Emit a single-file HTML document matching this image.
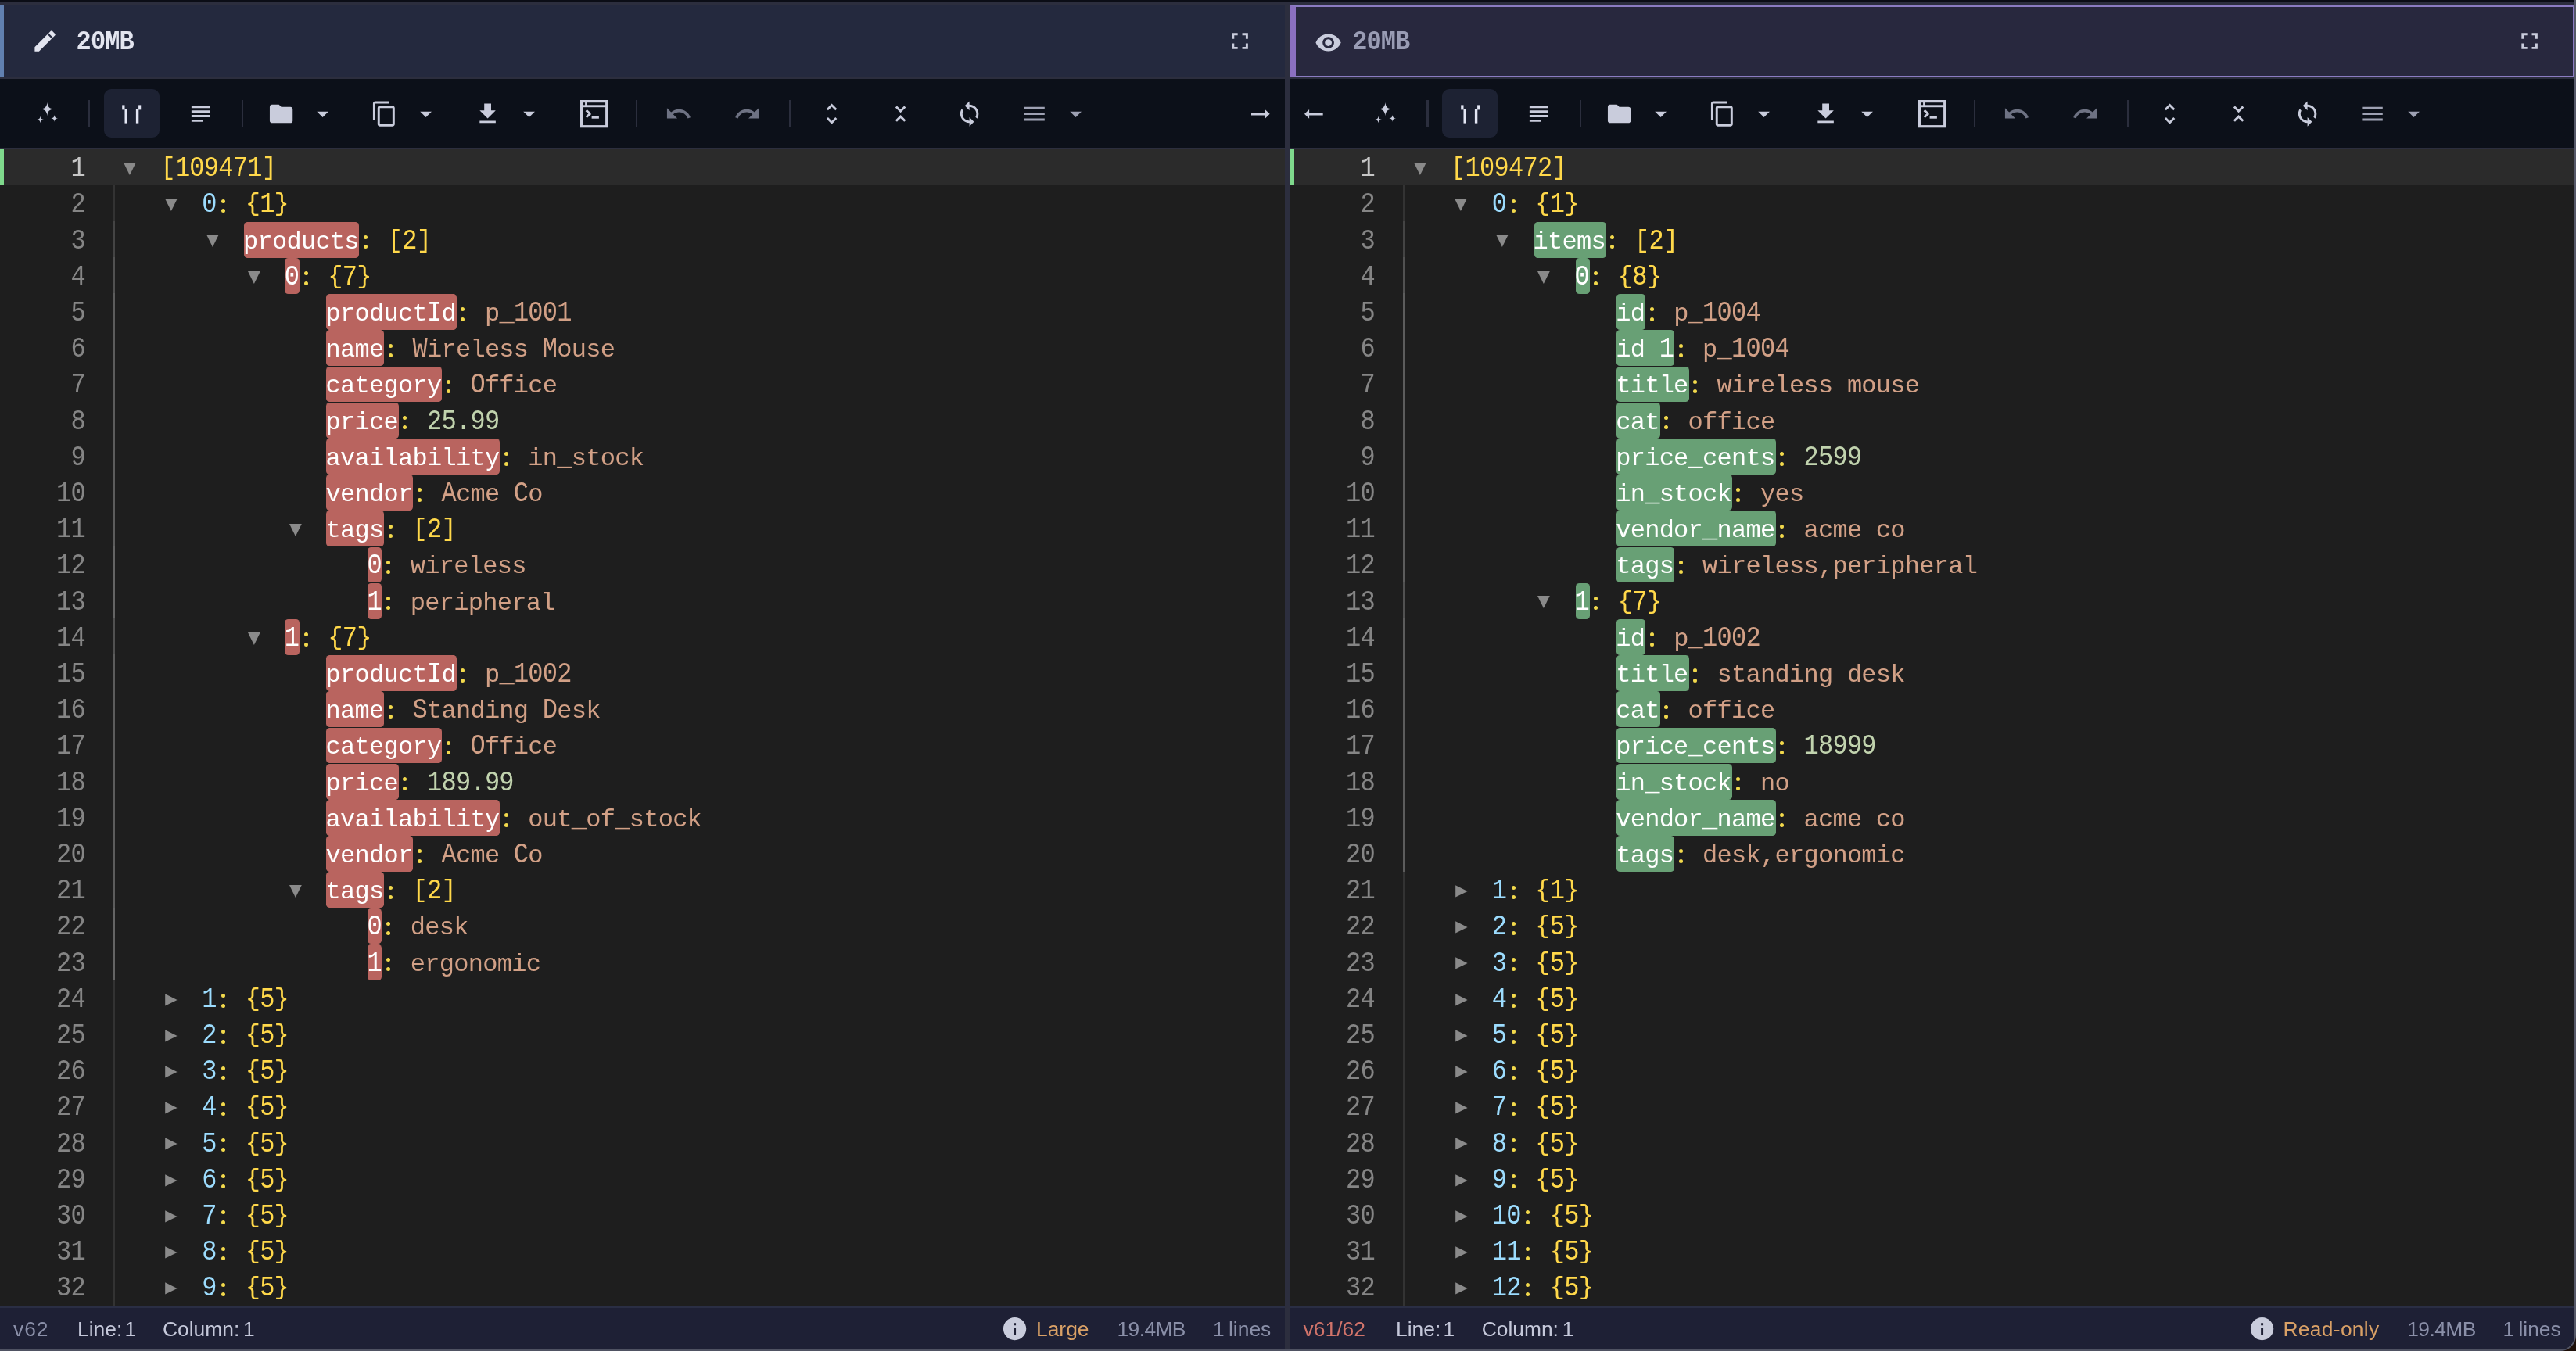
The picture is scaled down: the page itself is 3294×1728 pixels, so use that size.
<!DOCTYPE html>
<html><head><meta charset="utf-8"><title>JSON compare</title>
<style>
*{box-sizing:border-box;margin:0;padding:0}
html,body{width:3294px;height:1728px;overflow:hidden;background:#1d0f09}
body{position:relative;font-family:"Liberation Sans",sans-serif}
i{display:block;font-style:normal}
b{font-weight:normal}
.panel{position:absolute;top:0;width:1643px;height:1728px;overflow:hidden;will-change:transform}
#L{left:0}#R{left:1649px}
.hdr{position:absolute;left:0;top:2.8px;width:1643px;height:98.2px;background:#2c2e3e}
.lbox{position:absolute;left:0;top:4px;width:1643px;height:92.3px;background:#24293e}
#R .hbox{position:absolute;left:0;top:4px;width:1643px;height:92.3px;background:#28283e;border:2.4px solid #8b7cc2;border-left:8px solid #8b70c0}
.strip{position:absolute;left:0;top:0;width:5px;height:92.3px;background:#6180b0}
.title{position:absolute;top:-3px;height:98px;line-height:98px;font-family:"Liberation Mono",monospace;font-weight:bold;font-size:32px;letter-spacing:-0.9px;color:#e3e5f0;white-space:pre;transform:scaleY(1.08)}
.tb{position:absolute;left:0;top:101px;width:1643px;height:87.6px;background:#0c1019}
.ed{position:absolute;left:0;top:188.6px;width:1643px;height:1482.4px;background:#1e1e1e;border-top:2.2px solid #2c2e3d}
.sb{position:absolute;left:0;top:1671px;width:1643px;height:57px;background:#1e2035;border-top:2.4px solid #2a2e44}
.ic{position:absolute;fill:#c9ccdc;overflow:visible}
.sep{position:absolute;top:128px;width:2.2px;height:35px;background:#2b2e3d}
.abtn{position:absolute;top:114px;width:71px;height:62.4px;border-radius:9px;background:#1d2233}
.row{position:absolute;left:0;width:1643px;height:46.2px;line-height:46.2px;font-family:"Liberation Mono",monospace;font-size:32px;letter-spacing:-0.723px;white-space:pre}
.row.act{background:#2b2b2b}
.row.act:before{content:"";position:absolute;left:0;top:0;width:5px;height:46.2px;background:#7fd98c}
.ln{position:absolute;right:1534px;top:3.6px;color:#858585;text-align:right}
.act .ln{color:#c6c6c6}
.tri{position:absolute;top:17.4px;fill:#8a8a8a}
.hl{position:absolute;top:0.8px;height:45.8px;border-radius:4.6px}
.hl.r{background:#b9645f}.hl.g{background:#68a075}
.tx{position:absolute;top:3.6px}
.dg{display:inline-block;transform:scaleY(1.14);transform-origin:50% 31.6px}
.bk{display:inline-block;transform:translateY(-1.6px)}
.k{color:#9cdcfe}.kw{color:#fff}.c{position:relative;color:transparent}
.c:before,.c:after{content:"";position:absolute;left:6.4px;width:5px;height:5px;border-radius:50%;background:#f2d94c}
.c:before{top:10.4px}.c:after{top:22.8px}
.br{color:#ffd84a}.str{color:#d2a086}.num{color:#c1d3ae}
.guide{position:absolute;left:144px;width:3px}
.st{position:absolute;top:1674.4px;height:52.6px;line-height:52.6px;font-size:26.4px;white-space:pre;color:#c5c8da}
.st.dim{color:#8a8fa8}.st.or{color:#d9a066}.st.rd{color:#d0736a}
#div{position:absolute;left:1643px;top:2.8px;width:6px;height:1725.2px;background:#2c2e3e}
#R .row.act:before{width:6px}
#R .guide{left:144.9px;width:2.2px}
#win{position:absolute;left:0;top:0;width:3294px;height:1728px;overflow:hidden;background:#0b0d16;border-right:2px solid #565969;border-bottom:2.4px solid #4f5262;border-bottom-right-radius:20px}
</style></head>
<body>
<div id="win">
<div class="panel" id="L">
<div class="hdr"><div class="lbox"><i class="strip"></i></div></div><svg class="ic" style="left:39.7px;top:34.7px;width:35.2px;height:35.2px;fill:#e3e5f0" viewBox="0 0 24 24"><path d="M3 17.25V21h3.75L17.81 9.94l-3.75-3.75L3 17.25zM20.71 7.04c.39-.39.39-1.02 0-1.41l-2.34-2.34c-.39-.39-1.02-.39-1.41 0l-1.83 1.83 3.75 3.75 1.83-1.83z"/></svg><span class="title" style="left:97.6px;top:4.9px">20MB</span><svg class="ic" style="left:1567.7px;top:34.7px;width:35.2px;height:35.2px" viewBox="0 0 24 24"><path d="M7 14H5v5h5v-2H7v-3zm-2-4h2V7h3V5H5v5zm12 7h-3v2h5v-5h-2v3zM14 5v2h3v3h2V5h-5z"/></svg>
<div class="tb"></div>
<svg class="ic" style="left:40.6px;top:125.5px;width:40px;height:40px" viewBox="0 0 40 40"><path d="M19.4 5C20 10.76 22.24 13 28 13.6C22.24 14.2 20 16.44 19.4 22.2C18.8 16.44 16.56 14.2 10.8 13.6C16.56 13 18.8 10.76 19.4 5zM10.6 22.5C10.91 25.45 12.05 26.59 15 26.9C12.05 27.21 10.91 28.35 10.6 31.3C10.29 28.35 9.15 27.21 6.2 26.9C9.15 26.59 10.29 25.45 10.6 22.5zM28.6 20.9C28.91 23.85 30.05 24.99 33 25.3C30.05 25.61 28.91 26.75 28.6 29.7C28.29 26.75 27.15 25.61 24.2 25.3C27.15 24.99 28.29 23.85 28.6 20.9z"/></svg>
<i class="sep" style="left:113.3px"></i>
<i class="abtn" style="left:132.8px"></i>
<svg class="ic" style="left:148.4px;top:125.5px;width:40px;height:40px;fill:#e4e7f5" viewBox="0 0 40 40"><rect x="8.2" y="8.4" width="3.3" height="6"/><rect x="11.5" y="14" width="3.1" height="17.6"/><rect x="29.1" y="8.4" width="3.1" height="6"/><rect x="25.9" y="14" width="3.4" height="17.6"/></svg>
<svg class="ic" style="left:238.8px;top:127.9px;width:35.2px;height:35.2px" viewBox="0 0 24 24"><path d="M14 17H4v2h10v-2zm6-8H4v2h16V9zM4 15h16v-2H4v2zM4 5v2h16V5H4z"/></svg>
<i class="sep" style="left:309.1px"></i>
<svg class="ic" style="left:341.9px;top:127.9px;width:35.2px;height:35.2px" viewBox="0 0 24 24"><path d="M10 4H4c-1.1 0-1.99.9-1.99 2L2 18c0 1.1.9 2 2 2h16c1.1 0 2-.9 2-2V8c0-1.1-.9-2-2-2h-8l-2-2z"/></svg>
<svg class="ic" style="left:395.1px;top:127.9px;width:35.2px;height:35.2px" viewBox="0 0 24 24"><path d="M7 10l5 5 5-5z"/></svg>
<svg class="ic" style="left:473.9px;top:127.9px;width:35.2px;height:35.2px" viewBox="0 0 24 24"><path d="M16 1H4c-1.1 0-2 .9-2 2v14h2V3h12V1zm3 4H8c-1.1 0-2 .9-2 2v14c0 1.1.9 2 2 2h11c1.1 0 2-.9 2-2V7c0-1.1-.9-2-2-2zm0 16H8V7h11v14z"/></svg>
<svg class="ic" style="left:527.2px;top:127.9px;width:35.2px;height:35.2px" viewBox="0 0 24 24"><path d="M7 10l5 5 5-5z"/></svg>
<svg class="ic" style="left:606px;top:127.9px;width:35.2px;height:35.2px" viewBox="0 0 24 24"><path d="M19 9h-4V3H9v6H5l7 7 7-7zM5 18v2h14v-2H5z"/></svg>
<svg class="ic" style="left:659.1px;top:127.9px;width:35.2px;height:35.2px" viewBox="0 0 24 24"><path d="M7 10l5 5 5-5z"/></svg>
<svg class="ic" style="left:741.95px;top:127.85px;width:35.3px;height:35.3px;stroke:#c9ccdc" viewBox="0 0 35.3 35.3"><rect x="1.6" y="1.6" width="32.1" height="32.1" fill="none" stroke-width="3.2"/><rect x="1" y="6.3" width="33.3" height="2.9" stroke="none"/><rect x="6.1" y="0" width="2.3" height="7" stroke="none"/><path d="M7.6 13.2 L12.6 17.6 L7.6 22" fill="none" stroke-width="3" stroke-linejoin="bevel"/><rect x="14.6" y="20.5" width="9.3" height="3.2" stroke="none"/></svg>
<i class="sep" style="left:812.9px"></i>
<svg class="ic" style="left:850.1px;top:127.9px;width:35.2px;height:35.2px;fill:#6e7283" viewBox="0 0 24 24"><path d="M12.5 8c-2.65 0-5.05.99-6.9 2.6L2 7v9h9l-3.62-3.62c1.39-1.16 3.16-1.88 5.12-1.88 3.54 0 6.55 2.31 7.6 5.5l2.37-.78C21.08 11.03 17.15 8 12.5 8z"/></svg>
<svg class="ic" style="left:938.3px;top:127.9px;width:35.2px;height:35.2px;fill:#6e7283" viewBox="0 0 24 24"><path d="M18.4 10.6C16.55 8.99 14.15 8 11.5 8c-4.65 0-8.58 3.03-9.96 7.22L3.9 16c1.05-3.19 4.05-5.5 7.6-5.5 1.95 0 3.73.72 5.12 1.88L13 16h9V7l-3.6 3.6z"/></svg>
<i class="sep" style="left:1008.8px"></i>
<svg class="ic" style="left:1046px;top:127.9px;width:35.2px;height:35.2px" viewBox="0 0 24 24"><path d="M12 5.83L15.17 9l1.41-1.41L12 3 7.41 7.59 8.83 9 12 5.83zm0 12.34L8.83 15l-1.41 1.41L12 21l4.59-4.59L15.17 15 12 18.17z"/></svg>
<svg class="ic" style="left:1134px;top:127.9px;width:35.2px;height:35.2px" viewBox="0 0 24 24"><path d="M7.41 17.55L8.83 18.96 12 15.79 15.17 18.96l1.41-1.41L12 12.96l-4.59 4.59zM16.59 6.48L15.17 5.07 12 8.24 8.83 5.07 7.41 6.48 12 11.07l4.59-4.59z"/></svg>
<svg class="ic" style="left:1222px;top:127.9px;width:35.2px;height:35.2px" viewBox="0 0 24 24"><path d="M12 4V1L8 5l4 4V6c3.31 0 6 2.69 6 6 0 1.01-.25 1.97-.7 2.8l1.46 1.46C19.54 15.03 20 13.57 20 12c0-4.42-3.58-8-8-8zm0 14c-3.31 0-6-2.69-6-6 0-1.01.25-1.97.7-2.8L5.24 7.74C4.46 8.97 4 10.43 4 12c0 4.42 3.58 8 8 8v3l4-4-4-4v3z"/></svg>
<svg class="ic" style="left:1305px;top:127.9px;width:35.2px;height:35.2px;fill:#9ea1b3" viewBox="0 0 24 24"><path d="M3 18h18v-2H3v2zm0-5h18v-2H3v2zm0-7v2h18V6H3z"/></svg>
<svg class="ic" style="left:1357.9px;top:127.9px;width:35.2px;height:35.2px;fill:#9ea1b3" viewBox="0 0 24 24"><path d="M7 10l5 5 5-5z"/></svg>
<svg class="ic" style="left:1599.65px;top:139.65px;width:23.7px;height:11.7px" viewBox="0 0 23.7 11.7"><path d="M0 4.25H17.6V0L23.7 5.85L17.6 11.7V7.45H0z"/></svg>
<div class="ed"></div>
<div class="row act" style="top:190.6px"><span class="ln"><b class="dg">1</b></span><svg class="tri" style="left:158.3px" width="16" height="16" viewBox="0 0 16 16"><path d="M0 0.1H15.8L7.9 16z"/></svg><span class="tx" style="left:205.4px"><b class="br"><b class="bk">[</b><b class="dg">109471</b><b class="bk">]</b></b></span></div>
<div class="row" style="top:236.8px"><span class="ln"><b class="dg">2</b></span><svg class="tri" style="left:211.1px" width="16" height="16" viewBox="0 0 16 16"><path d="M0 0.1H15.8L7.9 16z"/></svg><span class="tx" style="left:258.2px"><b class="k"><b class="dg">0</b></b><b class="c">:</b> <b class="br"><b class="bk">{</b><b class="dg">1</b><b class="bk">}</b></b></span></div>
<div class="row" style="top:283px"><span class="ln"><b class="dg">3</b></span><svg class="tri" style="left:263.9px" width="16" height="16" viewBox="0 0 16 16"><path d="M0 0.1H15.8L7.9 16z"/></svg><i class="hl r" style="left:311.6px;width:147.84px"></i><span class="tx" style="left:311px"><b class="kw">products</b><b class="c">:</b> <b class="br"><b class="bk">[</b><b class="dg">2</b><b class="bk">]</b></b></span></div>
<div class="row" style="top:329.2px"><span class="ln"><b class="dg">4</b></span><svg class="tri" style="left:316.7px" width="16" height="16" viewBox="0 0 16 16"><path d="M0 0.1H15.8L7.9 16z"/></svg><i class="hl r" style="left:364.4px;width:18.48px"></i><span class="tx" style="left:363.8px"><b class="kw"><b class="dg">0</b></b><b class="c">:</b> <b class="br"><b class="bk">{</b><b class="dg">7</b><b class="bk">}</b></b></span></div>
<div class="row" style="top:375.4px"><span class="ln"><b class="dg">5</b></span><i class="hl r" style="left:417.2px;width:166.32px"></i><span class="tx" style="left:416.6px"><b class="kw">product<b class="dg">I</b>d</b><b class="c">:</b> <b class="str">p_<b class="dg">1001</b></b></span></div>
<div class="row" style="top:421.6px"><span class="ln"><b class="dg">6</b></span><i class="hl r" style="left:417.2px;width:73.92px"></i><span class="tx" style="left:416.6px"><b class="kw">name</b><b class="c">:</b> <b class="str"><b class="dg">W</b>ireless <b class="dg">M</b>ouse</b></span></div>
<div class="row" style="top:467.8px"><span class="ln"><b class="dg">7</b></span><i class="hl r" style="left:417.2px;width:147.84px"></i><span class="tx" style="left:416.6px"><b class="kw">category</b><b class="c">:</b> <b class="str"><b class="dg">O</b>ffice</b></span></div>
<div class="row" style="top:514px"><span class="ln"><b class="dg">8</b></span><i class="hl r" style="left:417.2px;width:92.4px"></i><span class="tx" style="left:416.6px"><b class="kw">price</b><b class="c">:</b> <b class="num"><b class="dg">25.99</b></b></span></div>
<div class="row" style="top:560.2px"><span class="ln"><b class="dg">9</b></span><i class="hl r" style="left:417.2px;width:221.76px"></i><span class="tx" style="left:416.6px"><b class="kw">availability</b><b class="c">:</b> <b class="str">in_stock</b></span></div>
<div class="row" style="top:606.4px"><span class="ln"><b class="dg">10</b></span><i class="hl r" style="left:417.2px;width:110.88px"></i><span class="tx" style="left:416.6px"><b class="kw">vendor</b><b class="c">:</b> <b class="str"><b class="dg">A</b>cme <b class="dg">C</b>o</b></span></div>
<div class="row" style="top:652.6px"><span class="ln"><b class="dg">11</b></span><svg class="tri" style="left:369.5px" width="16" height="16" viewBox="0 0 16 16"><path d="M0 0.1H15.8L7.9 16z"/></svg><i class="hl r" style="left:417.2px;width:73.92px"></i><span class="tx" style="left:416.6px"><b class="kw">tags</b><b class="c">:</b> <b class="br"><b class="bk">[</b><b class="dg">2</b><b class="bk">]</b></b></span></div>
<div class="row" style="top:698.8px"><span class="ln"><b class="dg">12</b></span><i class="hl r" style="left:470px;width:18.48px"></i><span class="tx" style="left:469.4px"><b class="kw"><b class="dg">0</b></b><b class="c">:</b> <b class="str">wireless</b></span></div>
<div class="row" style="top:745px"><span class="ln"><b class="dg">13</b></span><i class="hl r" style="left:470px;width:18.48px"></i><span class="tx" style="left:469.4px"><b class="kw"><b class="dg">1</b></b><b class="c">:</b> <b class="str">peripheral</b></span></div>
<div class="row" style="top:791.2px"><span class="ln"><b class="dg">14</b></span><svg class="tri" style="left:316.7px" width="16" height="16" viewBox="0 0 16 16"><path d="M0 0.1H15.8L7.9 16z"/></svg><i class="hl r" style="left:364.4px;width:18.48px"></i><span class="tx" style="left:363.8px"><b class="kw"><b class="dg">1</b></b><b class="c">:</b> <b class="br"><b class="bk">{</b><b class="dg">7</b><b class="bk">}</b></b></span></div>
<div class="row" style="top:837.4px"><span class="ln"><b class="dg">15</b></span><i class="hl r" style="left:417.2px;width:166.32px"></i><span class="tx" style="left:416.6px"><b class="kw">product<b class="dg">I</b>d</b><b class="c">:</b> <b class="str">p_<b class="dg">1002</b></b></span></div>
<div class="row" style="top:883.6px"><span class="ln"><b class="dg">16</b></span><i class="hl r" style="left:417.2px;width:73.92px"></i><span class="tx" style="left:416.6px"><b class="kw">name</b><b class="c">:</b> <b class="str"><b class="dg">S</b>tanding <b class="dg">D</b>esk</b></span></div>
<div class="row" style="top:929.8px"><span class="ln"><b class="dg">17</b></span><i class="hl r" style="left:417.2px;width:147.84px"></i><span class="tx" style="left:416.6px"><b class="kw">category</b><b class="c">:</b> <b class="str"><b class="dg">O</b>ffice</b></span></div>
<div class="row" style="top:976px"><span class="ln"><b class="dg">18</b></span><i class="hl r" style="left:417.2px;width:92.4px"></i><span class="tx" style="left:416.6px"><b class="kw">price</b><b class="c">:</b> <b class="num"><b class="dg">189.99</b></b></span></div>
<div class="row" style="top:1022.2px"><span class="ln"><b class="dg">19</b></span><i class="hl r" style="left:417.2px;width:221.76px"></i><span class="tx" style="left:416.6px"><b class="kw">availability</b><b class="c">:</b> <b class="str">out_of_stock</b></span></div>
<div class="row" style="top:1068.4px"><span class="ln"><b class="dg">20</b></span><i class="hl r" style="left:417.2px;width:110.88px"></i><span class="tx" style="left:416.6px"><b class="kw">vendor</b><b class="c">:</b> <b class="str"><b class="dg">A</b>cme <b class="dg">C</b>o</b></span></div>
<div class="row" style="top:1114.6px"><span class="ln"><b class="dg">21</b></span><svg class="tri" style="left:369.5px" width="16" height="16" viewBox="0 0 16 16"><path d="M0 0.1H15.8L7.9 16z"/></svg><i class="hl r" style="left:417.2px;width:73.92px"></i><span class="tx" style="left:416.6px"><b class="kw">tags</b><b class="c">:</b> <b class="br"><b class="bk">[</b><b class="dg">2</b><b class="bk">]</b></b></span></div>
<div class="row" style="top:1160.8px"><span class="ln"><b class="dg">22</b></span><i class="hl r" style="left:470px;width:18.48px"></i><span class="tx" style="left:469.4px"><b class="kw"><b class="dg">0</b></b><b class="c">:</b> <b class="str">desk</b></span></div>
<div class="row" style="top:1207px"><span class="ln"><b class="dg">23</b></span><i class="hl r" style="left:470px;width:18.48px"></i><span class="tx" style="left:469.4px"><b class="kw"><b class="dg">1</b></b><b class="c">:</b> <b class="str">ergonomic</b></span></div>
<div class="row" style="top:1253.2px"><span class="ln"><b class="dg">24</b></span><svg class="tri" style="left:211.4px" width="16" height="16" viewBox="0 0 16 16"><path d="M0.2 0.2V15.6L15.6 7.9z"/></svg><span class="tx" style="left:258.2px"><b class="k"><b class="dg">1</b></b><b class="c">:</b> <b class="br"><b class="bk">{</b><b class="dg">5</b><b class="bk">}</b></b></span></div>
<div class="row" style="top:1299.4px"><span class="ln"><b class="dg">25</b></span><svg class="tri" style="left:211.4px" width="16" height="16" viewBox="0 0 16 16"><path d="M0.2 0.2V15.6L15.6 7.9z"/></svg><span class="tx" style="left:258.2px"><b class="k"><b class="dg">2</b></b><b class="c">:</b> <b class="br"><b class="bk">{</b><b class="dg">5</b><b class="bk">}</b></b></span></div>
<div class="row" style="top:1345.6px"><span class="ln"><b class="dg">26</b></span><svg class="tri" style="left:211.4px" width="16" height="16" viewBox="0 0 16 16"><path d="M0.2 0.2V15.6L15.6 7.9z"/></svg><span class="tx" style="left:258.2px"><b class="k"><b class="dg">3</b></b><b class="c">:</b> <b class="br"><b class="bk">{</b><b class="dg">5</b><b class="bk">}</b></b></span></div>
<div class="row" style="top:1391.8px"><span class="ln"><b class="dg">27</b></span><svg class="tri" style="left:211.4px" width="16" height="16" viewBox="0 0 16 16"><path d="M0.2 0.2V15.6L15.6 7.9z"/></svg><span class="tx" style="left:258.2px"><b class="k"><b class="dg">4</b></b><b class="c">:</b> <b class="br"><b class="bk">{</b><b class="dg">5</b><b class="bk">}</b></b></span></div>
<div class="row" style="top:1438px"><span class="ln"><b class="dg">28</b></span><svg class="tri" style="left:211.4px" width="16" height="16" viewBox="0 0 16 16"><path d="M0.2 0.2V15.6L15.6 7.9z"/></svg><span class="tx" style="left:258.2px"><b class="k"><b class="dg">5</b></b><b class="c">:</b> <b class="br"><b class="bk">{</b><b class="dg">5</b><b class="bk">}</b></b></span></div>
<div class="row" style="top:1484.2px"><span class="ln"><b class="dg">29</b></span><svg class="tri" style="left:211.4px" width="16" height="16" viewBox="0 0 16 16"><path d="M0.2 0.2V15.6L15.6 7.9z"/></svg><span class="tx" style="left:258.2px"><b class="k"><b class="dg">6</b></b><b class="c">:</b> <b class="br"><b class="bk">{</b><b class="dg">5</b><b class="bk">}</b></b></span></div>
<div class="row" style="top:1530.4px"><span class="ln"><b class="dg">30</b></span><svg class="tri" style="left:211.4px" width="16" height="16" viewBox="0 0 16 16"><path d="M0.2 0.2V15.6L15.6 7.9z"/></svg><span class="tx" style="left:258.2px"><b class="k"><b class="dg">7</b></b><b class="c">:</b> <b class="br"><b class="bk">{</b><b class="dg">5</b><b class="bk">}</b></b></span></div>
<div class="row" style="top:1576.6px"><span class="ln"><b class="dg">31</b></span><svg class="tri" style="left:211.4px" width="16" height="16" viewBox="0 0 16 16"><path d="M0.2 0.2V15.6L15.6 7.9z"/></svg><span class="tx" style="left:258.2px"><b class="k"><b class="dg">8</b></b><b class="c">:</b> <b class="br"><b class="bk">{</b><b class="dg">5</b><b class="bk">}</b></b></span></div>
<div class="row" style="top:1622.8px"><span class="ln"><b class="dg">32</b></span><svg class="tri" style="left:211.4px" width="16" height="16" viewBox="0 0 16 16"><path d="M0.2 0.2V15.6L15.6 7.9z"/></svg><span class="tx" style="left:258.2px"><b class="k"><b class="dg">9</b></b><b class="c">:</b> <b class="br"><b class="bk">{</b><b class="dg">5</b><b class="bk">}</b></b></span></div>
<i class="guide" style="top:236.8px;height:46.2px;background:#333333"></i><i class="guide" style="top:283px;height:46.2px;background:#444444"></i><i class="guide" style="top:329.2px;height:46.2px;background:#515151"></i><i class="guide" style="top:375.4px;height:323.4px;background:#5c5c5c"></i><i class="guide" style="top:698.8px;height:92.4px;background:#646464"></i><i class="guide" style="top:791.2px;height:46.2px;background:#515151"></i><i class="guide" style="top:837.4px;height:323.4px;background:#5c5c5c"></i><i class="guide" style="top:1160.8px;height:92.4px;background:#646464"></i><i class="guide" style="top:1253.2px;height:417.8px;background:#333333"></i>
<div class="sb"></div>
<span class="st dim" style="left:17px;letter-spacing:1px">v62</span><span class="st " style="left:99px;word-spacing:-4px">Line: 1</span><span class="st " style="left:208px;word-spacing:-2.5px">Column: 1</span><svg class="ic" style="left:1279.8px;top:1681.9px;width:35.2px;height:35.2px" viewBox="0 0 24 24"><path d="M12 2C6.48 2 2 6.48 2 12s4.48 10 10 10 10-4.48 10-10S17.52 2 12 2zm1 15h-2v-6h2v6zm0-8h-2V7h2v2z"/></svg><span class="st or" style="left:1325px">Large</span><span class="st dim" style="left:1428.5px;letter-spacing:-0.6px">19.4MB</span><span class="st dim" style="left:1551px;word-spacing:-2px">1 lines</span>
</div>
<i id="div"></i>
<div class="panel" id="R">
<div class="hdr"><div class="hbox"></div></div><svg class="ic" style="left:31.9px;top:36.8px;width:35.2px;height:35.2px" viewBox="0 0 24 24"><path d="M12 4.5C7 4.5 2.73 7.61 1 12c1.73 4.39 6 7.5 11 7.5s9.27-3.11 11-7.5c-1.73-4.39-6-7.5-11-7.5zM12 17c-2.76 0-5-2.24-5-5s2.24-5 5-5 5 2.24 5 5-2.24 5-5 5zm0-8c-1.66 0-3 1.34-3 3s1.34 3 3 3 3-1.34 3-3-1.34-3-3-3z"/></svg><span class="title" style="left:80.2px;top:4.9px;color:#999cb4">20MB</span><svg class="ic" style="left:1568px;top:34.9px;width:35.2px;height:35.2px" viewBox="0 0 24 24"><path d="M7 14H5v5h5v-2H7v-3zm-2-4h2V7h3V5H5v5zm12 7h-3v2h5v-5h-2v3zM14 5v2h3v3h2V5h-5z"/></svg>
<div class="tb"></div>
<svg class="ic" style="left:18.95px;top:139.65px;width:23.7px;height:11.7px" viewBox="0 0 23.7 11.7"><path d="M23.7 4.25H6.1V0L0 5.85L6.1 11.7V7.45H23.7z"/></svg>
<svg class="ic" style="left:102.7px;top:125.5px;width:40px;height:40px" viewBox="0 0 40 40"><path d="M19.4 5C20 10.76 22.24 13 28 13.6C22.24 14.2 20 16.44 19.4 22.2C18.8 16.44 16.56 14.2 10.8 13.6C16.56 13 18.8 10.76 19.4 5zM10.6 22.5C10.91 25.45 12.05 26.59 15 26.9C12.05 27.21 10.91 28.35 10.6 31.3C10.29 28.35 9.15 27.21 6.2 26.9C9.15 26.59 10.29 25.45 10.6 22.5zM28.6 20.9C28.91 23.85 30.05 24.99 33 25.3C30.05 25.61 28.91 26.75 28.6 29.7C28.29 26.75 27.15 25.61 24.2 25.3C27.15 24.99 28.29 23.85 28.6 20.9z"/></svg>
<i class="sep" style="left:175.4px"></i>
<i class="abtn" style="left:194.9px"></i>
<svg class="ic" style="left:210.5px;top:125.5px;width:40px;height:40px;fill:#e4e7f5" viewBox="0 0 40 40"><rect x="8.2" y="8.4" width="3.3" height="6"/><rect x="11.5" y="14" width="3.1" height="17.6"/><rect x="29.1" y="8.4" width="3.1" height="6"/><rect x="25.9" y="14" width="3.4" height="17.6"/></svg>
<svg class="ic" style="left:300.9px;top:127.9px;width:35.2px;height:35.2px" viewBox="0 0 24 24"><path d="M14 17H4v2h10v-2zm6-8H4v2h16V9zM4 15h16v-2H4v2zM4 5v2h16V5H4z"/></svg>
<i class="sep" style="left:371.2px"></i>
<svg class="ic" style="left:404px;top:127.9px;width:35.2px;height:35.2px" viewBox="0 0 24 24"><path d="M10 4H4c-1.1 0-1.99.9-1.99 2L2 18c0 1.1.9 2 2 2h16c1.1 0 2-.9 2-2V8c0-1.1-.9-2-2-2h-8l-2-2z"/></svg>
<svg class="ic" style="left:457.2px;top:127.9px;width:35.2px;height:35.2px" viewBox="0 0 24 24"><path d="M7 10l5 5 5-5z"/></svg>
<svg class="ic" style="left:536px;top:127.9px;width:35.2px;height:35.2px" viewBox="0 0 24 24"><path d="M16 1H4c-1.1 0-2 .9-2 2v14h2V3h12V1zm3 4H8c-1.1 0-2 .9-2 2v14c0 1.1.9 2 2 2h11c1.1 0 2-.9 2-2V7c0-1.1-.9-2-2-2zm0 16H8V7h11v14z"/></svg>
<svg class="ic" style="left:589.3px;top:127.9px;width:35.2px;height:35.2px" viewBox="0 0 24 24"><path d="M7 10l5 5 5-5z"/></svg>
<svg class="ic" style="left:668.1px;top:127.9px;width:35.2px;height:35.2px" viewBox="0 0 24 24"><path d="M19 9h-4V3H9v6H5l7 7 7-7zM5 18v2h14v-2H5z"/></svg>
<svg class="ic" style="left:721.2px;top:127.9px;width:35.2px;height:35.2px" viewBox="0 0 24 24"><path d="M7 10l5 5 5-5z"/></svg>
<svg class="ic" style="left:804.05px;top:127.85px;width:35.3px;height:35.3px;stroke:#c9ccdc" viewBox="0 0 35.3 35.3"><rect x="1.6" y="1.6" width="32.1" height="32.1" fill="none" stroke-width="3.2"/><rect x="1" y="6.3" width="33.3" height="2.9" stroke="none"/><rect x="6.1" y="0" width="2.3" height="7" stroke="none"/><path d="M7.6 13.2 L12.6 17.6 L7.6 22" fill="none" stroke-width="3" stroke-linejoin="bevel"/><rect x="14.6" y="20.5" width="9.3" height="3.2" stroke="none"/></svg>
<i class="sep" style="left:875px"></i>
<svg class="ic" style="left:912.2px;top:127.9px;width:35.2px;height:35.2px;fill:#6e7283" viewBox="0 0 24 24"><path d="M12.5 8c-2.65 0-5.05.99-6.9 2.6L2 7v9h9l-3.62-3.62c1.39-1.16 3.16-1.88 5.12-1.88 3.54 0 6.55 2.31 7.6 5.5l2.37-.78C21.08 11.03 17.15 8 12.5 8z"/></svg>
<svg class="ic" style="left:1000.4px;top:127.9px;width:35.2px;height:35.2px;fill:#6e7283" viewBox="0 0 24 24"><path d="M18.4 10.6C16.55 8.99 14.15 8 11.5 8c-4.65 0-8.58 3.03-9.96 7.22L3.9 16c1.05-3.19 4.05-5.5 7.6-5.5 1.95 0 3.73.72 5.12 1.88L13 16h9V7l-3.6 3.6z"/></svg>
<i class="sep" style="left:1070.9px"></i>
<svg class="ic" style="left:1108.1px;top:127.9px;width:35.2px;height:35.2px" viewBox="0 0 24 24"><path d="M12 5.83L15.17 9l1.41-1.41L12 3 7.41 7.59 8.83 9 12 5.83zm0 12.34L8.83 15l-1.41 1.41L12 21l4.59-4.59L15.17 15 12 18.17z"/></svg>
<svg class="ic" style="left:1196.1px;top:127.9px;width:35.2px;height:35.2px" viewBox="0 0 24 24"><path d="M7.41 17.55L8.83 18.96 12 15.79 15.17 18.96l1.41-1.41L12 12.96l-4.59 4.59zM16.59 6.48L15.17 5.07 12 8.24 8.83 5.07 7.41 6.48 12 11.07l4.59-4.59z"/></svg>
<svg class="ic" style="left:1284.1px;top:127.9px;width:35.2px;height:35.2px" viewBox="0 0 24 24"><path d="M12 4V1L8 5l4 4V6c3.31 0 6 2.69 6 6 0 1.01-.25 1.97-.7 2.8l1.46 1.46C19.54 15.03 20 13.57 20 12c0-4.42-3.58-8-8-8zm0 14c-3.31 0-6-2.69-6-6 0-1.01.25-1.97.7-2.8L5.24 7.74C4.46 8.97 4 10.43 4 12c0 4.42 3.58 8 8 8v3l4-4-4-4v3z"/></svg>
<svg class="ic" style="left:1367.1px;top:127.9px;width:35.2px;height:35.2px;fill:#9ea1b3" viewBox="0 0 24 24"><path d="M3 18h18v-2H3v2zm0-5h18v-2H3v2zm0-7v2h18V6H3z"/></svg>
<svg class="ic" style="left:1420px;top:127.9px;width:35.2px;height:35.2px;fill:#9ea1b3" viewBox="0 0 24 24"><path d="M7 10l5 5 5-5z"/></svg>
<div class="ed"></div>
<div class="row act" style="top:190.6px"><span class="ln"><b class="dg">1</b></span><svg class="tri" style="left:158.5px" width="16" height="16" viewBox="0 0 16 16"><path d="M0 0.1H15.8L7.9 16z"/></svg><span class="tx" style="left:206px"><b class="br"><b class="bk">[</b><b class="dg">109472</b><b class="bk">]</b></b></span></div>
<div class="row" style="top:236.8px"><span class="ln"><b class="dg">2</b></span><svg class="tri" style="left:211.3px" width="16" height="16" viewBox="0 0 16 16"><path d="M0 0.1H15.8L7.9 16z"/></svg><span class="tx" style="left:258.8px"><b class="k"><b class="dg">0</b></b><b class="c">:</b> <b class="br"><b class="bk">{</b><b class="dg">1</b><b class="bk">}</b></b></span></div>
<div class="row" style="top:283px"><span class="ln"><b class="dg">3</b></span><svg class="tri" style="left:264.1px" width="16" height="16" viewBox="0 0 16 16"><path d="M0 0.1H15.8L7.9 16z"/></svg><i class="hl g" style="left:312.7px;width:92.4px"></i><span class="tx" style="left:311.6px"><b class="kw">items</b><b class="c">:</b> <b class="br"><b class="bk">[</b><b class="dg">2</b><b class="bk">]</b></b></span></div>
<div class="row" style="top:329.2px"><span class="ln"><b class="dg">4</b></span><svg class="tri" style="left:316.9px" width="16" height="16" viewBox="0 0 16 16"><path d="M0 0.1H15.8L7.9 16z"/></svg><i class="hl g" style="left:365.5px;width:18.48px"></i><span class="tx" style="left:364.4px"><b class="kw"><b class="dg">0</b></b><b class="c">:</b> <b class="br"><b class="bk">{</b><b class="dg">8</b><b class="bk">}</b></b></span></div>
<div class="row" style="top:375.4px"><span class="ln"><b class="dg">5</b></span><i class="hl g" style="left:418.3px;width:36.96px"></i><span class="tx" style="left:417.2px"><b class="kw">id</b><b class="c">:</b> <b class="str">p_<b class="dg">1004</b></b></span></div>
<div class="row" style="top:421.6px"><span class="ln"><b class="dg">6</b></span><i class="hl g" style="left:418.3px;width:73.92px"></i><span class="tx" style="left:417.2px"><b class="kw">id <b class="dg">1</b></b><b class="c">:</b> <b class="str">p_<b class="dg">1004</b></b></span></div>
<div class="row" style="top:467.8px"><span class="ln"><b class="dg">7</b></span><i class="hl g" style="left:418.3px;width:92.4px"></i><span class="tx" style="left:417.2px"><b class="kw">title</b><b class="c">:</b> <b class="str">wireless mouse</b></span></div>
<div class="row" style="top:514px"><span class="ln"><b class="dg">8</b></span><i class="hl g" style="left:418.3px;width:55.44px"></i><span class="tx" style="left:417.2px"><b class="kw">cat</b><b class="c">:</b> <b class="str">office</b></span></div>
<div class="row" style="top:560.2px"><span class="ln"><b class="dg">9</b></span><i class="hl g" style="left:418.3px;width:203.28px"></i><span class="tx" style="left:417.2px"><b class="kw">price_cents</b><b class="c">:</b> <b class="num"><b class="dg">2599</b></b></span></div>
<div class="row" style="top:606.4px"><span class="ln"><b class="dg">10</b></span><i class="hl g" style="left:418.3px;width:147.84px"></i><span class="tx" style="left:417.2px"><b class="kw">in_stock</b><b class="c">:</b> <b class="str">yes</b></span></div>
<div class="row" style="top:652.6px"><span class="ln"><b class="dg">11</b></span><i class="hl g" style="left:418.3px;width:203.28px"></i><span class="tx" style="left:417.2px"><b class="kw">vendor_name</b><b class="c">:</b> <b class="str">acme co</b></span></div>
<div class="row" style="top:698.8px"><span class="ln"><b class="dg">12</b></span><i class="hl g" style="left:418.3px;width:73.92px"></i><span class="tx" style="left:417.2px"><b class="kw">tags</b><b class="c">:</b> <b class="str">wireless,peripheral</b></span></div>
<div class="row" style="top:745px"><span class="ln"><b class="dg">13</b></span><svg class="tri" style="left:316.9px" width="16" height="16" viewBox="0 0 16 16"><path d="M0 0.1H15.8L7.9 16z"/></svg><i class="hl g" style="left:365.5px;width:18.48px"></i><span class="tx" style="left:364.4px"><b class="kw"><b class="dg">1</b></b><b class="c">:</b> <b class="br"><b class="bk">{</b><b class="dg">7</b><b class="bk">}</b></b></span></div>
<div class="row" style="top:791.2px"><span class="ln"><b class="dg">14</b></span><i class="hl g" style="left:418.3px;width:36.96px"></i><span class="tx" style="left:417.2px"><b class="kw">id</b><b class="c">:</b> <b class="str">p_<b class="dg">1002</b></b></span></div>
<div class="row" style="top:837.4px"><span class="ln"><b class="dg">15</b></span><i class="hl g" style="left:418.3px;width:92.4px"></i><span class="tx" style="left:417.2px"><b class="kw">title</b><b class="c">:</b> <b class="str">standing desk</b></span></div>
<div class="row" style="top:883.6px"><span class="ln"><b class="dg">16</b></span><i class="hl g" style="left:418.3px;width:55.44px"></i><span class="tx" style="left:417.2px"><b class="kw">cat</b><b class="c">:</b> <b class="str">office</b></span></div>
<div class="row" style="top:929.8px"><span class="ln"><b class="dg">17</b></span><i class="hl g" style="left:418.3px;width:203.28px"></i><span class="tx" style="left:417.2px"><b class="kw">price_cents</b><b class="c">:</b> <b class="num"><b class="dg">18999</b></b></span></div>
<div class="row" style="top:976px"><span class="ln"><b class="dg">18</b></span><i class="hl g" style="left:418.3px;width:147.84px"></i><span class="tx" style="left:417.2px"><b class="kw">in_stock</b><b class="c">:</b> <b class="str">no</b></span></div>
<div class="row" style="top:1022.2px"><span class="ln"><b class="dg">19</b></span><i class="hl g" style="left:418.3px;width:203.28px"></i><span class="tx" style="left:417.2px"><b class="kw">vendor_name</b><b class="c">:</b> <b class="str">acme co</b></span></div>
<div class="row" style="top:1068.4px"><span class="ln"><b class="dg">20</b></span><i class="hl g" style="left:418.3px;width:73.92px"></i><span class="tx" style="left:417.2px"><b class="kw">tags</b><b class="c">:</b> <b class="str">desk,ergonomic</b></span></div>
<div class="row" style="top:1114.6px"><span class="ln"><b class="dg">21</b></span><svg class="tri" style="left:211.6px" width="16" height="16" viewBox="0 0 16 16"><path d="M0.2 0.2V15.6L15.6 7.9z"/></svg><span class="tx" style="left:258.8px"><b class="k"><b class="dg">1</b></b><b class="c">:</b> <b class="br"><b class="bk">{</b><b class="dg">1</b><b class="bk">}</b></b></span></div>
<div class="row" style="top:1160.8px"><span class="ln"><b class="dg">22</b></span><svg class="tri" style="left:211.6px" width="16" height="16" viewBox="0 0 16 16"><path d="M0.2 0.2V15.6L15.6 7.9z"/></svg><span class="tx" style="left:258.8px"><b class="k"><b class="dg">2</b></b><b class="c">:</b> <b class="br"><b class="bk">{</b><b class="dg">5</b><b class="bk">}</b></b></span></div>
<div class="row" style="top:1207px"><span class="ln"><b class="dg">23</b></span><svg class="tri" style="left:211.6px" width="16" height="16" viewBox="0 0 16 16"><path d="M0.2 0.2V15.6L15.6 7.9z"/></svg><span class="tx" style="left:258.8px"><b class="k"><b class="dg">3</b></b><b class="c">:</b> <b class="br"><b class="bk">{</b><b class="dg">5</b><b class="bk">}</b></b></span></div>
<div class="row" style="top:1253.2px"><span class="ln"><b class="dg">24</b></span><svg class="tri" style="left:211.6px" width="16" height="16" viewBox="0 0 16 16"><path d="M0.2 0.2V15.6L15.6 7.9z"/></svg><span class="tx" style="left:258.8px"><b class="k"><b class="dg">4</b></b><b class="c">:</b> <b class="br"><b class="bk">{</b><b class="dg">5</b><b class="bk">}</b></b></span></div>
<div class="row" style="top:1299.4px"><span class="ln"><b class="dg">25</b></span><svg class="tri" style="left:211.6px" width="16" height="16" viewBox="0 0 16 16"><path d="M0.2 0.2V15.6L15.6 7.9z"/></svg><span class="tx" style="left:258.8px"><b class="k"><b class="dg">5</b></b><b class="c">:</b> <b class="br"><b class="bk">{</b><b class="dg">5</b><b class="bk">}</b></b></span></div>
<div class="row" style="top:1345.6px"><span class="ln"><b class="dg">26</b></span><svg class="tri" style="left:211.6px" width="16" height="16" viewBox="0 0 16 16"><path d="M0.2 0.2V15.6L15.6 7.9z"/></svg><span class="tx" style="left:258.8px"><b class="k"><b class="dg">6</b></b><b class="c">:</b> <b class="br"><b class="bk">{</b><b class="dg">5</b><b class="bk">}</b></b></span></div>
<div class="row" style="top:1391.8px"><span class="ln"><b class="dg">27</b></span><svg class="tri" style="left:211.6px" width="16" height="16" viewBox="0 0 16 16"><path d="M0.2 0.2V15.6L15.6 7.9z"/></svg><span class="tx" style="left:258.8px"><b class="k"><b class="dg">7</b></b><b class="c">:</b> <b class="br"><b class="bk">{</b><b class="dg">5</b><b class="bk">}</b></b></span></div>
<div class="row" style="top:1438px"><span class="ln"><b class="dg">28</b></span><svg class="tri" style="left:211.6px" width="16" height="16" viewBox="0 0 16 16"><path d="M0.2 0.2V15.6L15.6 7.9z"/></svg><span class="tx" style="left:258.8px"><b class="k"><b class="dg">8</b></b><b class="c">:</b> <b class="br"><b class="bk">{</b><b class="dg">5</b><b class="bk">}</b></b></span></div>
<div class="row" style="top:1484.2px"><span class="ln"><b class="dg">29</b></span><svg class="tri" style="left:211.6px" width="16" height="16" viewBox="0 0 16 16"><path d="M0.2 0.2V15.6L15.6 7.9z"/></svg><span class="tx" style="left:258.8px"><b class="k"><b class="dg">9</b></b><b class="c">:</b> <b class="br"><b class="bk">{</b><b class="dg">5</b><b class="bk">}</b></b></span></div>
<div class="row" style="top:1530.4px"><span class="ln"><b class="dg">30</b></span><svg class="tri" style="left:211.6px" width="16" height="16" viewBox="0 0 16 16"><path d="M0.2 0.2V15.6L15.6 7.9z"/></svg><span class="tx" style="left:258.8px"><b class="k"><b class="dg">10</b></b><b class="c">:</b> <b class="br"><b class="bk">{</b><b class="dg">5</b><b class="bk">}</b></b></span></div>
<div class="row" style="top:1576.6px"><span class="ln"><b class="dg">31</b></span><svg class="tri" style="left:211.6px" width="16" height="16" viewBox="0 0 16 16"><path d="M0.2 0.2V15.6L15.6 7.9z"/></svg><span class="tx" style="left:258.8px"><b class="k"><b class="dg">11</b></b><b class="c">:</b> <b class="br"><b class="bk">{</b><b class="dg">5</b><b class="bk">}</b></b></span></div>
<div class="row" style="top:1622.8px"><span class="ln"><b class="dg">32</b></span><svg class="tri" style="left:211.6px" width="16" height="16" viewBox="0 0 16 16"><path d="M0.2 0.2V15.6L15.6 7.9z"/></svg><span class="tx" style="left:258.8px"><b class="k"><b class="dg">12</b></b><b class="c">:</b> <b class="br"><b class="bk">{</b><b class="dg">5</b><b class="bk">}</b></b></span></div>
<i class="guide" style="top:236.8px;height:46.2px;background:#333333"></i><i class="guide" style="top:283px;height:46.2px;background:#444444"></i><i class="guide" style="top:329.2px;height:46.2px;background:#515151"></i><i class="guide" style="top:375.4px;height:369.6px;background:#5c5c5c"></i><i class="guide" style="top:745px;height:46.2px;background:#515151"></i><i class="guide" style="top:791.2px;height:323.4px;background:#5c5c5c"></i><i class="guide" style="top:1114.6px;height:556.4px;background:#333333"></i>
<div class="sb"></div>
<span class="st rd" style="left:17.6px">v61/62</span><span class="st " style="left:136px;word-spacing:-4px">Line: 1</span><span class="st " style="left:245.7px;word-spacing:-2.5px">Column: 1</span><svg class="ic" style="left:1226px;top:1681.9px;width:35.2px;height:35.2px" viewBox="0 0 24 24"><path d="M12 2C6.48 2 2 6.48 2 12s4.48 10 10 10 10-4.48 10-10S17.52 2 12 2zm1 15h-2v-6h2v6zm0-8h-2V7h2v2z"/></svg><span class="st or" style="left:1270.5px;letter-spacing:0.3px">Read-only</span><span class="st dim" style="left:1429.3px;letter-spacing:-0.6px">19.4MB</span><span class="st dim" style="left:1551.4px;word-spacing:-2px">1 lines</span>
</div>
</div>
</body></html>
